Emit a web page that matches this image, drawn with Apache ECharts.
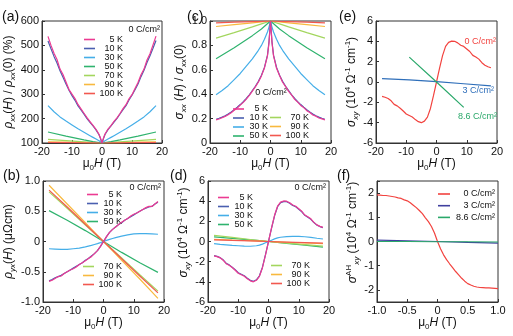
<!DOCTYPE html>
<html><head><meta charset="utf-8">
<script src="https://cdn.jsdelivr.net/npm/echarts@6/dist/echarts.min.js"></script>
<style>html,body{margin:0;padding:0;background:#fff}#c{width:513px;height:336px}</style>
</head><body><div id="c"></div>
<script>
// ---------------- data ----------------
const FIELD_FINE = [-18,-17,-16,-15,-14,-13,-12,-11,-10,-9,-8,-7,-6,-5,-4,-3,-2,-1,-0.5,0,0.5,1,2,3,4,5,6,7,8,9,10,11,12,13,14,15,16,17,18];
const FIELD_MID = [-18,-16,-14,-12,-10,-8,-6,-4,-3,-2,-1,-0.5,0,0.5,1,2,3,4,6,8,10,12,14,16,18];
const FIELD_COARSE = [-18,-12,-6,-3,0,3,6,12,18];
const FIELD_E3 = [-18,-9,0,9,18];
const FIELD_E86 = [-9,0,9];
const FIELD_F = [-1,-0.95,-0.9,-0.85,-0.8,-0.75,-0.7,-0.65,-0.6,-0.55,-0.5,-0.45,-0.4,-0.35,-0.3,-0.25,-0.2,-0.15,-0.1,-0.05,0,0.05,0.1,0.15,0.2,0.25,0.3,0.35,0.4,0.45,0.5,0.55,0.6,0.65,0.7,0.75,0.8,0.85,0.9,0.95,1];
const FIELD_F_COARSE = [-1,-0.5,0,0.5,1];

// (a) rho_xx(H)/rho_xx(0) (%)
const RXX_5K = [537,500,468,442,403,381,350,319,300,282,258,240,222,204,188,172,156,136,120,100,121,137,157,171,189,203,221,241,257,281,298,323,348,380,403,440,466,502,538];
const RXX_10K = [518,486,455,428,396,369,342,316,294,275,252,236,218,200,185,170,154,134,118,100,118,135,155,170,186,201,219,237,253,276,296,318,342,372,398,430,458,488,520];
const RXX_30K = [253,228,207,190,174,158,144,130,123,116,109,105,100,105,109,116,123,130,144,158,174,190,207,228,253];
const RXX_50K = [145,128,113,106,100,106,113,128,145];
const RXX_70K = [115,110,105,102.5,100,102.5,105,110,115];
const RXX_90K = [105,103.3,101.7,100.8,100,100.8,101.7,103.3,105];
const RXX_100K = [102,101.3,100.7,100.3,100,100.3,100.7,101.3,102];

// (b) rho_yx (uOhm cm)
const RYX_5K = [-0.66,-0.64,-0.61,-0.58,-0.57,-0.53,-0.5,-0.47,-0.45,-0.42,-0.38,-0.35,-0.32,-0.28,-0.25,-0.2,-0.15,-0.08,-0.04,0,0.04,0.08,0.15,0.2,0.24,0.28,0.32,0.35,0.38,0.42,0.45,0.47,0.5,0.53,0.56,0.58,0.58,0.62,0.66];
const RYX_10K = [-0.65,-0.63,-0.6,-0.58,-0.56,-0.53,-0.5,-0.47,-0.44,-0.41,-0.38,-0.35,-0.31,-0.28,-0.24,-0.2,-0.15,-0.08,-0.04,0,0.04,0.08,0.15,0.2,0.24,0.28,0.31,0.35,0.38,0.41,0.44,0.47,0.5,0.53,0.55,0.57,0.58,0.62,0.65];
const RYX_30K = [-0.12,-0.125,-0.13,-0.13,-0.12,-0.11,-0.09,-0.065,-0.05,-0.035,-0.018,-0.009,0,0.009,0.018,0.035,0.05,0.065,0.09,0.11,0.125,0.13,0.13,0.125,0.12];
const RYX_50K = [0.51,0.35,0.18,0.09,0,-0.09,-0.18,-0.35,-0.51];
const RYX_70K = [0.82,0.55,0.27,0.135,0,-0.135,-0.27,-0.55,-0.82];
const RYX_90K = [0.93,0.62,0.31,0.155,0,-0.155,-0.31,-0.62,-0.94];
const RYX_100K = [0.85,0.57,0.285,0.14,0,-0.14,-0.285,-0.57,-0.85];

// (c) sigma_xx(H)/sigma_xx(0)
const SXX_5K = [0.19,0.197,0.207,0.218,0.232,0.248,0.268,0.287,0.31,0.333,0.36,0.39,0.425,0.46,0.5,0.55,0.615,0.715,0.82,1.0,0.82,0.715,0.612,0.553,0.498,0.462,0.423,0.392,0.358,0.335,0.308,0.29,0.265,0.25,0.23,0.22,0.205,0.198,0.19];
const SXX_10K = [0.195,0.203,0.212,0.223,0.238,0.254,0.273,0.293,0.315,0.338,0.365,0.395,0.43,0.465,0.505,0.555,0.62,0.72,0.83,1.0,0.83,0.72,0.62,0.555,0.505,0.465,0.43,0.395,0.365,0.338,0.315,0.293,0.273,0.254,0.238,0.223,0.212,0.203,0.195];
const SXX_30K = [0.395,0.43,0.47,0.52,0.57,0.63,0.69,0.76,0.8,0.85,0.91,0.95,1.0,0.95,0.91,0.85,0.8,0.76,0.69,0.63,0.57,0.52,0.47,0.43,0.395];
const SXX_50K = [0.69,0.78,0.88,0.935,1.0,0.935,0.88,0.78,0.69];
const SXX_70K = [0.86,0.905,0.952,0.976,1.0,0.976,0.952,0.905,0.86];
const SXX_90K = [0.955,0.97,0.985,0.992,1.0,0.992,0.985,0.97,0.955];
const SXX_100K = [0.985,0.99,0.995,0.997,1.0,0.997,0.995,0.99,0.985];

// (d) sigma_xy (1e4 S/cm)
const SXY_5K = [-1.42,-1.5,-1.62,-1.85,-2.2,-2.35,-2.58,-2.85,-3.15,-3.3,-3.45,-3.7,-3.9,-4.0,-3.85,-3.45,-2.6,-1.35,-0.68,0,0.68,1.35,2.6,3.5,3.9,4.02,4.0,3.85,3.62,3.5,3.25,3.0,2.62,2.45,2.25,1.9,1.65,1.5,1.4];
const SXY_10K = [-1.4,-1.48,-1.6,-1.82,-2.15,-2.32,-2.55,-2.8,-3.1,-3.25,-3.4,-3.65,-3.85,-3.95,-3.8,-3.4,-2.55,-1.3,-0.65,0,0.65,1.3,2.55,3.45,3.85,3.95,3.95,3.8,3.58,3.45,3.2,2.95,2.6,2.4,2.2,1.88,1.62,1.48,1.38];
const SXY_30K = [-0.22,-0.28,-0.33,-0.38,-0.42,-0.46,-0.47,-0.42,-0.36,-0.26,-0.13,-0.065,0,0.065,0.13,0.26,0.36,0.42,0.48,0.5,0.5,0.47,0.4,0.32,0.25];
const SXY_50K = [0.45,0.31,0.16,0.08,0,-0.09,-0.18,-0.36,-0.55];
const SXY_70K = [0.6,0.4,0.2,0.1,0,-0.08,-0.16,-0.31,-0.46];
const SXY_90K = [0.22,0.15,0.075,0.037,0,-0.037,-0.075,-0.15,-0.22];
const SXY_100K = [0.17,0.113,0.057,0.028,0,-0.028,-0.057,-0.113,-0.17];

// (e) sigma_xy vs charge
const E_SXY_0C = SXY_5K;
const E_SXY_3C = [0.33,0.2,0.04,-0.17,-0.38];
const E_SXY_86C = [2.45,0,-2.5];

// (f) anomalous Hall sigma_xy
const F_AH_0C = [1.93,1.92,1.9,1.9,1.88,1.86,1.84,1.8,1.78,1.72,1.68,1.6,1.5,1.4,1.28,1.15,0.98,0.82,0.62,0.35,0,-0.3,-0.55,-0.75,-0.92,-1.08,-1.24,-1.38,-1.52,-1.64,-1.74,-1.8,-1.85,-1.88,-1.9,-1.91,-1.92,-1.92,-1.93,-1.94,-1.95];
const F_AH_3C = [0.06,0.03,0,-0.04,-0.07];
const F_AH_86C = [0.0,0.0,-0.01,-0.01,-0.02];

// tick labels
const TICKS_X_FIELD = [-20,-10,0,10,20];
const TICKS_X_F = ['-1.0','-0.5','0','0.5','1.0'];

// ---------------- chart ----------------
const FONT = '"Liberation Sans", Arial, Helvetica, sans-serif';
const C = {k5:'#ec3a92', k10:'#4a5fb0', k30:'#45aee8', k50:'#2fb36e', k70:'#a3d65e', k90:'#f8b93e', k100:'#f2584f',
           e0:'#f2433f', e3:'#2f6fba', e86:'#2aa86a', f3:'#40409f'};

const RICH = {
  n:{fontFamily:FONT, fontSize:12, lineHeight:16, color:'#111'},
  i:{fontFamily:FONT, fontSize:12, lineHeight:16, fontStyle:'italic', color:'#111'},
  sub:{fontFamily:FONT, fontSize:8, lineHeight:8, fontStyle:'italic', verticalAlign:'bottom', color:'#111'},
  subn:{fontFamily:FONT, fontSize:8, lineHeight:8, verticalAlign:'bottom', color:'#111'},
  sup:{fontFamily:FONT, fontSize:8, lineHeight:8, verticalAlign:'top', color:'#111'}
};
const X_NAME = '{n|μ}{subn|0}{i|H}{n| (T)}';
const NAME_A = '{i|ρ}{sub|xx}{n|(}{i|H}{n|) / }{i|ρ}{sub|xx}{n|(0) (%)}';
const NAME_B = '{i|ρ}{sub|yx}{n|(}{i|H}{n|) (μΩcm)}';
const NAME_C = '{i|σ}{sub|xx}{n| (}{i|H}{n|) / }{i|σ}{sub|xx}{n|(0)}';
const NAME_D = '{i|σ}{sub|xy}{n| (10}{sup|4}{n| Ω}{sup|-1}{n| cm}{sup|-1}{n|)}';
const NAME_F = '{i|σ}{sup|AH}{sub|xy}{n| (10}{sup|4}{n| Ω}{sup|-1}{n| cm}{sup|-1}{n|)}';

function pairs(xs, ys){ return xs.map((x,i)=>[x, ys[i]]); }
function line(name, gi, xs, ys, color, z){
  return {type:'line', name, xAxisIndex:gi, yAxisIndex:gi, data:pairs(xs,ys), symbol:'none', showSymbol:false,
    lineStyle:{width:1.2, color}, itemStyle:{color}, z:z||2, animation:false, silent:true};
}
const AXLINE = {show:true, onZero:false, lineStyle:{color:'#333', width:1}};
const AXTICK = {show:true, inside:true, length:3, lineStyle:{color:'#333'}};
function fmt1(v){ return v===0 ? '0' : v.toFixed(1); }
function xAx(gi, min, max, interval, fmt, gap){
  return {type:'value', gridIndex:gi, min, max, interval, name:X_NAME, nameLocation:'middle', nameGap:gap,
    nameTextStyle:{fontFamily:FONT, fontSize:12, color:'#111', rich:RICH},
    axisLine:AXLINE, axisTick:AXTICK, splitLine:{show:false},
    axisLabel:{fontFamily:FONT, fontSize:11, color:'#111', margin:3, formatter:fmt}};
}
function yAx(gi, min, max, interval, fmt, name, gap, pad){
  const o = {type:'value', gridIndex:gi, min, max, name, nameLocation:'middle', nameGap:gap,
    nameTextStyle:{fontFamily:FONT, fontSize:12, color:'#111', rich:RICH, padding:pad||0},
    axisLine:AXLINE, axisTick:AXTICK, splitLine:{show:false},
    axisLabel:{fontFamily:FONT, fontSize:11, color:'#111', margin:3, formatter:fmt}};
  if (interval) o.interval = interval;
  return o;
}
function legend(names, left, top, w, lh, gap, iw, fs){
  return {data:names, orient:'vertical', left, top, padding:0, itemGap:gap, itemWidth:iw||11, itemHeight:1.6, icon:'rect',
    selectedMode:false, formatter:'{t|{name}}',
    textStyle:{fontFamily:FONT, fontSize:fs||9, color:'#111',
      rich:{t:{fontFamily:FONT, fontSize:fs||9, width:w, align:'right', lineHeight:lh, color:'#111'}}}};
}
function txt(s, x, y, size, color, align){
  return {type:'text', x, y, silent:true,
    style:{text:s, font: size+'px '+FONT, fill:color||'#111', textAlign:align||'left', textVerticalAlign:'middle'}};
}

const grids = [
  {left:42, top:21, width:120, height:122},   // a
  {left:43, top:181, width:121, height:121},  // b
  {left:210, top:21, width:121, height:122},  // c
  {left:208, top:181, width:121, height:121}, // d
  {left:376, top:21, width:121, height:122},  // e
  {left:377, top:181, width:121, height:121}  // f
].map(g=>Object.assign(g,{show:true, borderColor:'#333', borderWidth:1, containLabel:false, outerBoundsMode:'none'}));

const xFmtField = v => TICKS_X_FIELD.includes(v) ? String(v) : '';
const xFmtF = v => { const s = fmt1(v); return TICKS_X_F.includes(s) ? s : ''; };

const option = {
  animation:false,
  backgroundColor:'#fff',
  grid: grids,
  xAxis: [
    xAx(0,-20,20,10,xFmtField,10), xAx(1,-20,20,10,xFmtField,11), xAx(2,-20,20,10,xFmtField,10),
    xAx(3,-20,20,10,xFmtField,11), xAx(4,-20,20,10,xFmtField,10), xAx(5,-1,1,0.5,xFmtF,11)
  ],
  yAxis: [
    yAx(0,100,600,100,null,NAME_A,16),
    yAx(1,-1,1,0.5,fmt1,NAME_B,24),
    yAx(2,0,1,0.2,fmt1,NAME_C,18),
    yAx(3,-6,6,2,null,NAME_D,5,[0,0,0,18]),
    yAx(4,-6,6,2,null,NAME_D,9),
    yAx(5,-2.5,2.5,null,v => Number.isInteger(v) ? String(v) : '',NAME_F,12,[0,0,0,18])
  ],
  legend: [
    legend(['5 K','10 K','30 K','50 K','70 K','90 K','100 K'], 84, 35, 23, 8.3, 0),
    legend(['5 K','10 K','30 K','50 K'], 87, 190, 19, 8.4, 0),
    legend(['70 K','90 K','100 K'], 83, 262, 23, 8.6, 0),
    legend(['5 K','10 K','30 K','50 K'], 233, 104.5, 19, 9, 0),
    legend(['70 K','90 K','100 K'], 270, 113, 23, 9, 0),
    legend(['5 K','10 K','30 K','50 K'], 218, 193, 19, 8.6, 0),
    legend(['70 K','90 K','100 K'], 271, 261, 23, 8.6, 0),
    legend(['0 C/cm²','3 C/cm²','8.6 C/cm²'], 438, 189.5, 40, 9, 2.7, 12, 9)
  ],
  graphic: [
    txt('(a)', 2, 17, 14), txt('(c)', 187, 17, 14), txt('(e)', 339, 17, 14),
    txt('(b)', 3, 176, 14), txt('(d)', 170, 176, 14), txt('(f)', 337, 176, 14),
    txt('0 C/cm²', 160, 30, 9, '#111', 'right'),
    txt('0 C/cm²', 161, 188, 9, '#111', 'right'),
    txt('0 C/cm²', 326, 188, 9, '#111', 'right'),
    txt('0 C/cm²', 271, 93, 9, '#111', 'center'),
    txt('0 C/cm²', 496, 42, 9, C.e0, 'right'),
    txt('3 C/cm²', 494, 91, 9, C.e3, 'right'),
    txt('8.6 C/cm²', 497, 117, 9, C.e86, 'right')
  ],
  series: [
    // (a)
    line('100 K',0,FIELD_COARSE,RXX_100K,C.k100,3),
    line('90 K',0,FIELD_COARSE,RXX_90K,C.k90,2),
    line('70 K',0,FIELD_COARSE,RXX_70K,C.k70,2),
    line('50 K',0,FIELD_COARSE,RXX_50K,C.k50,2),
    line('30 K',0,FIELD_MID,RXX_30K,C.k30,2),
    line('10 K',0,FIELD_FINE,RXX_10K,C.k10,3),
    line('5 K',0,FIELD_FINE,RXX_5K,C.k5,4),
    // (b)
    line('30 K',1,FIELD_MID,RYX_30K,C.k30,2),
    line('50 K',1,FIELD_COARSE,RYX_50K,C.k50,2),
    line('90 K',1,FIELD_COARSE,RYX_90K,C.k90,2),
    line('70 K',1,FIELD_COARSE,RYX_70K,C.k70,2),
    line('100 K',1,FIELD_COARSE,RYX_100K,C.k100,3),
    line('10 K',1,FIELD_FINE,RYX_10K,C.k10,3),
    line('5 K',1,FIELD_FINE,RYX_5K,C.k5,4),
    // (c)
    line('100 K',2,FIELD_COARSE,SXX_100K,C.k100,3),
    line('90 K',2,FIELD_COARSE,SXX_90K,C.k90,2),
    line('70 K',2,FIELD_COARSE,SXX_70K,C.k70,2),
    line('50 K',2,FIELD_COARSE,SXX_50K,C.k50,2),
    line('30 K',2,FIELD_MID,SXX_30K,C.k30,2),
    line('10 K',2,FIELD_FINE,SXX_10K,C.k10,3),
    line('5 K',2,FIELD_FINE,SXX_5K,C.k5,4),
    // (d)
    line('50 K',3,FIELD_COARSE,SXY_50K,C.k50,2),
    line('70 K',3,FIELD_COARSE,SXY_70K,C.k70,2),
    line('90 K',3,FIELD_COARSE,SXY_90K,C.k90,2),
    line('100 K',3,FIELD_COARSE,SXY_100K,C.k100,3),
    line('30 K',3,FIELD_MID,SXY_30K,C.k30,2),
    line('10 K',3,FIELD_FINE,SXY_10K,C.k10,3),
    line('5 K',3,FIELD_FINE,SXY_5K,C.k5,4),
    // (e)
    line('e 0 C/cm²',4,FIELD_FINE,E_SXY_0C,C.e0,3),
    line('e 3 C/cm²',4,FIELD_E3,E_SXY_3C,C.e3,3),
    line('e 8.6 C/cm²',4,FIELD_E86,E_SXY_86C,C.e86,3),
    // (f)
    line('0 C/cm²',5,FIELD_F,F_AH_0C,C.e0,3),
    line('3 C/cm²',5,FIELD_F_COARSE,F_AH_3C,C.f3,3),
    line('8.6 C/cm²',5,FIELD_F_COARSE,F_AH_86C,C.e86,3)
  ]
};
const chart = echarts.init(document.getElementById('c'), null, {renderer:'canvas'});
chart.setOption(option);
</script>
</body></html>
